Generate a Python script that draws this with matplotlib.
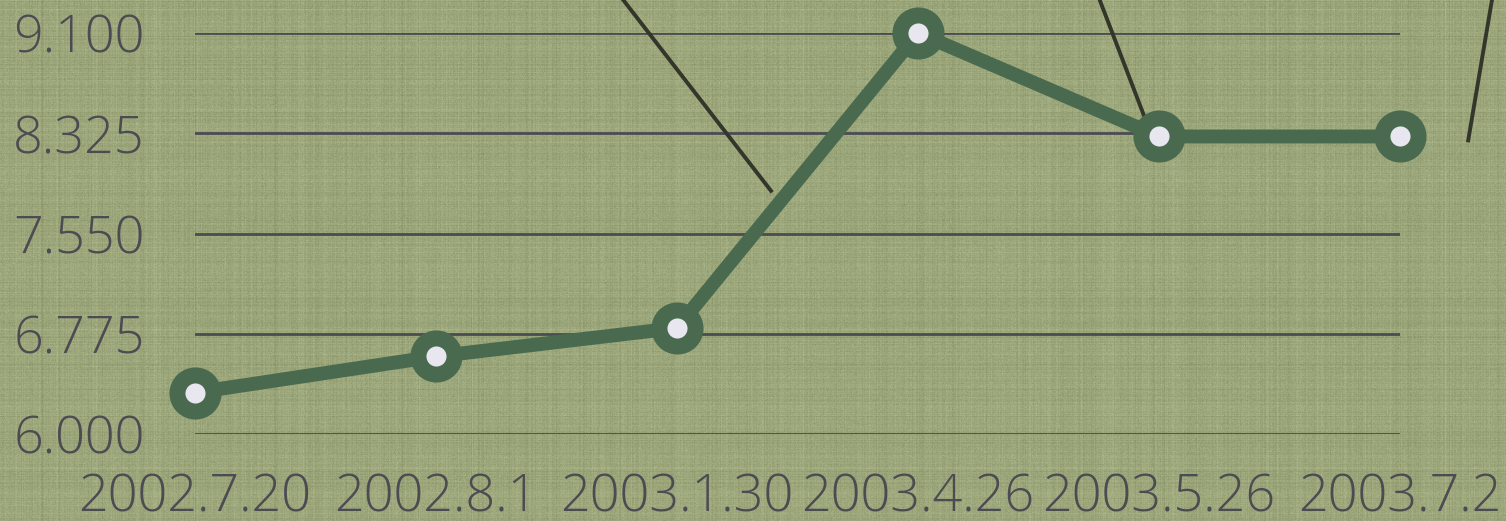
import numpy as np
import matplotlib.pyplot as plt

dates = ['2002.7.20', '2002.8.1', '2003.1.30', '2003.4.26', '2003.5.26', '2003.7.2']
values = [6.32, 6.6, 6.82, 9.1, 8.3, 8.3]
yticks = [6.000, 6.775, 7.550, 8.325, 9.100]

# leader lines of labels that sit above the visible area (data coords)
leaders = [((1.775, 9.36), (2.39, 7.88)),
           ((3.753, 9.36), (3.94, 8.45)),
           ((5.382, 9.36), (5.283, 8.27))]

green = '#4a6a50'
grey = '#4b4b52'

fig = plt.figure(figsize=(15.06, 5.21), dpi=100)

# linen-like texture behind everything
rng = np.random.default_rng(3)
h, w = 521, 1506
rows = rng.normal(0, 1, (h, 1))
cols = rng.normal(0, 1, (1, w))
tex = 0.5 * rows + 0.5 * cols + 0.6 * rng.normal(0, 1, (h, w))
base = np.array([155, 166, 122]) / 255.0
img = base[None, None, :] + 0.025 * tex[:, :, None]
bgax = fig.add_axes([0, 0, 1, 1])
bgax.imshow(np.clip(img, 0, 1), aspect='auto', interpolation='nearest')
bgax.axis('off')

ax = fig.add_axes([195 / 1506, 1 - 434 / 521, 1205 / 1506, 401 / 521])
ax.patch.set_alpha(0)
x = np.arange(len(dates))

for yt in yticks:
    ax.axhline(yt, color=grey, lw=2, zorder=1)

ax.plot(x, values, color=green, lw=10, zorder=3, solid_capstyle='butt')
ax.plot(x, values, 'o', ms=26, mfc='#e8e6ee', mec=green, mew=11.5, zorder=4, clip_on=False)

for (x0, y0), (x1, y1) in leaders:
    ax.plot([x0, x1], [y0, y1], color='#33362a', lw=2.8, zorder=2, clip_on=False)

ax.set_xlim(0, 5)
ax.set_ylim(6, 9.1)
ax.set_xticks(x)
ax.set_xticklabels(dates)
ax.set_yticks(yticks)
ax.set_yticklabels([f'{v:.3f}' for v in yticks])
ax.tick_params(length=0, labelsize=37.5, labelcolor=grey)
ax.tick_params(axis='y', pad=36)
ax.tick_params(axis='x', pad=27)
for lab in ax.get_xticklabels() + ax.get_yticklabels():
    lab.set_family('Open Sans')
    lab.set_fontweight('light')
for s in ax.spines.values():
    s.set_visible(False)

fig.savefig('out.png', dpi=100)
